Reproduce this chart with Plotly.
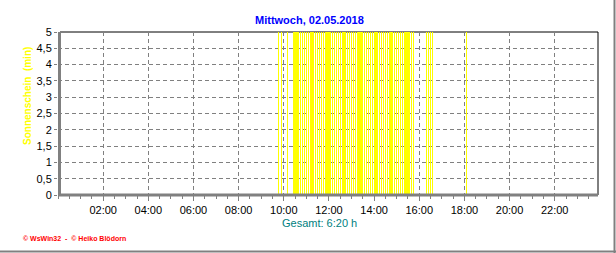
import plotly.graph_objects as go

# ---- data (5-minute sunshine intervals, minutes of sun per interval) ----
sun_times = [
    "09:45", "09:55", "10:10",
    "10:25", "10:30", "10:35", "10:40", "10:45", "10:50", "10:55",
    "11:00", "11:05", "11:10", "11:15", "11:20", "11:25", "11:30", "11:35", "11:40", "11:45", "11:50", "11:55",
    "12:00", "12:05", "12:10", "12:15", "12:20", "12:25", "12:30", "12:35", "12:40", "12:45", "12:50", "12:55",
    "13:00", "13:05", "13:10", "13:15", "13:20", "13:25", "13:30", "13:35", "13:40", "13:45", "13:50", "13:55",
    "14:00", "14:05", "14:10", "14:15", "14:20", "14:25", "14:30", "14:35", "14:40", "14:45", "14:50", "14:55",
    "15:00", "15:05", "15:10", "15:15", "15:20", "15:25", "15:30", "15:35", "15:40", "15:45",
    "16:20", "16:25", "16:30", "16:35",
    "18:05",
]
sun_minutes = [5] * len(sun_times)

x_tick_hours = [2, 4, 6, 8, 10, 12, 14, 16, 18, 20, 22]
x_tick_labels = ["02:00", "04:00", "06:00", "08:00", "10:00", "12:00",
                 "14:00", "16:00", "18:00", "20:00", "22:00"]

title_text = "Mittwoch, 02.05.2018"
y_title = "Sonnenschein  (min)"
total_text = "Gesamt: 6:20 h"
credit_text = "© WsWin32  -  © Heiko Blödorn"

# ---- geometry ----
W, H = 616, 253
L, R, T, B = 58, 18, 32, 58
PW, PH = W - L - R, H - T - B


def px(xp):
    return (xp - L) / PW


def py(yp):
    return (H - B - yp) / PH


def to_hours(s):
    h, m = s.split(":")
    return int(h) + int(m) / 60.0


xs = [to_hours(t) for t in sun_times]

fig = go.Figure()
fig.add_trace(go.Bar(
    x=xs, y=sun_minutes, width=0.008,
    marker=dict(color="#FFFF00", line=dict(width=0)),
    hoverinfo="skip",
))

grey = "#808080"
font = "Liberation Sans, Arial, sans-serif"

fig.update_layout(
    width=W, height=H,
    margin=dict(l=L, r=R, t=T, b=B),
    paper_bgcolor="white", plot_bgcolor="white",
    showlegend=False,
    separators=",.",
    bargap=0,
    font=dict(family=font, size=11, color="black"),
)

fig.update_xaxes(
    range=[0, 23 + 55 / 60],
    tickmode="array", tickvals=x_tick_hours, ticktext=x_tick_labels,
    ticks="outside", ticklen=5, tickcolor=grey, tickwidth=1,
    showgrid=True, gridcolor=grey, griddash="4px,3px", gridwidth=1,
    minor=dict(tickmode="linear", tick0=0, dtick=0.5, ticks="outside",
               ticklen=3, tickcolor=grey, showgrid=False),
    showline=False, zeroline=False,
    tickfont=dict(family=font, size=11, color="black"),
    fixedrange=True,
)
fig.update_yaxes(
    range=[0, 5], tick0=0, dtick=0.5,
    ticks="outside", ticklen=3, tickcolor=grey, tickwidth=1,
    showgrid=True, gridcolor=grey, griddash="4px,3px", gridwidth=1,
    showline=False, zeroline=False,
    tickfont=dict(family=font, size=11, color="black"),
    fixedrange=True,
)

shapes = [
    dict(type="line", xref="paper", yref="paper", x0=px(60), x1=1, y0=1, y1=1,
         line=dict(color="black", width=1), layer="between"),
    dict(type="line", xref="paper", yref="paper", x0=1, x1=1, y0=0, y1=1,
         line=dict(color="black", width=1), layer="between"),
    dict(type="line", xref="paper", yref="paper", x0=px(59.5), x1=px(59.5),
         y0=py(196), y1=1, line=dict(color=grey, width=3), layer="above"),
    dict(type="line", xref="paper", yref="paper", x0=px(58), x1=1,
         y0=py(195), y1=py(195), line=dict(color=grey, width=3), layer="above"),
    dict(type="line", xref="paper", yref="paper", x0=px(614.5), x1=px(614.5),
         y0=py(253), y1=py(0), line=dict(color=grey, width=2), layer="above"),
    dict(type="line", xref="paper", yref="paper", x0=px(0), x1=px(616),
         y0=py(251.5), y1=py(251.5), line=dict(color=grey, width=2), layer="above"),
]
fig.update_layout(shapes=shapes)

annotations = [
    dict(text="<b>" + title_text + "</b>", x=px(309), y=py(20), xref="paper", yref="paper",
         xanchor="center", yanchor="middle", showarrow=False,
         font=dict(family=font, size=11, color="#0000FF")),
    dict(text="<b>" + y_title + "</b>", x=px(27), y=py(96), xref="paper", yref="paper",
         xanchor="center", yanchor="middle", showarrow=False, textangle=-90,
         font=dict(family=font, size=10, color="#FFFF00")),
    dict(text=total_text, x=px(319), y=py(223), xref="paper", yref="paper",
         xanchor="center", yanchor="middle", showarrow=False,
         font=dict(family=font, size=11, color="#008080")),
    dict(text="<b>" + credit_text + "</b>", x=px(21), y=py(238), xref="paper", yref="paper",
         xanchor="left", yanchor="middle", showarrow=False,
         font=dict(family=font, size=7, color="#FF0000")),
]
fig.update_layout(annotations=annotations)

fig.write_html("out.html", config={"displayModeBar": False})
